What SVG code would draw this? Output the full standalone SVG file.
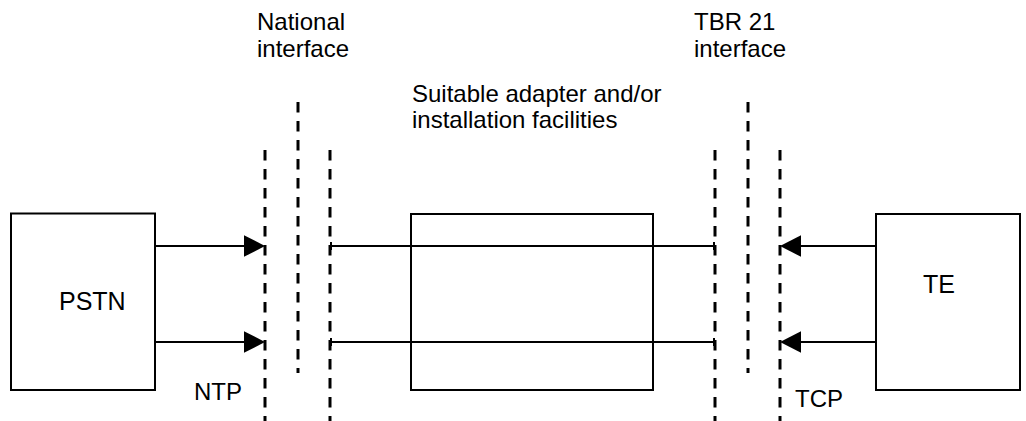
<svg xmlns="http://www.w3.org/2000/svg" width="1026" height="421" viewBox="0 0 1026 421">
<style>
text{font-family:"Liberation Sans",Arial,sans-serif;font-size:24px;fill:#000}
text.big{font-size:25px}
.box{fill:#fff;stroke:#000;stroke-width:2}
.dash{stroke:#000;stroke-width:3;stroke-dasharray:10.5 8.5;fill:none}
.wire{stroke:#000;stroke-width:2;fill:none}
.head{fill:#000;stroke:none}
</style>
<rect width="1026" height="421" fill="#fff"/>
<g id="interfaces">
<line class="dash" x1="265" y1="150" x2="265" y2="421"/>
<line class="dash" x1="298" y1="102" x2="298" y2="373"/>
<line class="dash" x1="330" y1="150" x2="330" y2="421"/>
<line class="dash" x1="715" y1="150" x2="715" y2="421"/>
<line class="dash" x1="748" y1="102" x2="748" y2="373"/>
<line class="dash" x1="780" y1="150" x2="780" y2="421"/>
</g>
<g id="pstn">
<rect class="box" x="11" y="213.5" width="144" height="176.5"/>
<text class="big" x="59" y="310">PSTN</text>
</g>
<g id="adapter">
<rect class="box" x="411" y="214" width="242" height="176"/>
</g>
<g id="te">
<rect class="box" x="876" y="214" width="144" height="176"/>
<text class="big" x="923" y="293">TE</text>
</g>
<g id="connectors">
<line class="wire" x1="155" y1="246" x2="246" y2="246"/>
<polygon class="head" points="265,246 244,235.2 244,256.8"/>
<line class="wire" x1="155" y1="342" x2="246" y2="342"/>
<polygon class="head" points="265,342 244,331.2 244,352.8"/>
<line class="wire" x1="330" y1="246" x2="715" y2="246"/>
<line class="wire" x1="331" y1="242" x2="331" y2="250"/>
<line class="wire" x1="714" y1="242" x2="714" y2="250"/>
<line class="wire" x1="330" y1="342" x2="715" y2="342"/>
<line class="wire" x1="331" y1="338" x2="331" y2="346"/>
<line class="wire" x1="714" y1="338" x2="714" y2="346"/>
<line class="wire" x1="876" y1="246" x2="799" y2="246"/>
<polygon class="head" points="780,246 801,235.2 801,256.8"/>
<line class="wire" x1="876" y1="342" x2="799" y2="342"/>
<polygon class="head" points="780,342 801,331.2 801,352.8"/>
</g>
<g id="labels">
<text x="257" y="30">National</text>
<text x="257" y="57">interface</text>
<text x="412" y="102">Suitable adapter and/or</text>
<text x="412" y="128">installation facilities</text>
<text x="694" y="30">TBR 21</text>
<text x="694" y="57">interface</text>
<text x="194" y="400">NTP</text>
<text x="795" y="407">TCP</text>
</g>
</svg>
